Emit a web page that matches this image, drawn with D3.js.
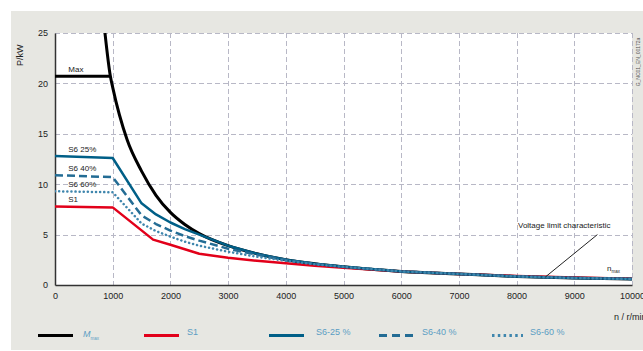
<!DOCTYPE html>
<html>
<head>
<meta charset="utf-8">
<script src="https://cdn.jsdelivr.net/npm/d3@7"></script>
<style>
  body { margin: 0; background: #fff; }
  svg { display: block; font-family: "Liberation Sans", Arial, sans-serif; }
</style>
</head>
<body>
<div id="container"></div>
<script>
// ---- data ----
const xTicks = [0, 1000, 2000, 3000, 4000, 5000, 6000, 7000, 8000, 9000, 10000];
const yTicks = [0, 5, 10, 15, 20, 25];

// Max: flat part and torque-limit curve
const maxFlatN = [0, 960];
const maxFlatP = [20.7, 20.7];
const maxN = [866, 960, 1000, 1250, 1500, 1750, 2000, 2250, 2500, 3000, 3500, 4000, 5000, 6000, 7000, 8000, 9000, 10000];
const maxP = [25, 20.7, 19.6, 14.4, 11.3, 8.9, 7.2, 6.0, 5.1, 3.9, 3.1, 2.5, 1.8, 1.35, 1.1, 0.85, 0.7, 0.6];

const s625N = [0, 1000, 1500, 1750, 2000, 2250, 2500, 3000, 3500, 4000, 4500, 5000, 6000, 7000, 8000, 9000, 10000];
const s625P = [12.8, 12.6, 8.1, 7.0, 6.2, 5.55, 5.0, 3.9, 3.1, 2.5, 2.1, 1.8, 1.35, 1.1, 0.85, 0.7, 0.6];

const s640N = [0, 1000, 1500, 1750, 2000, 2250, 2500, 3000, 3500, 4000, 4500, 5000, 6000, 7000, 8000, 9000, 10000];
const s640P = [10.9, 10.7, 6.9, 6.05, 5.4, 4.85, 4.4, 3.6, 3.0, 2.5, 2.1, 1.8, 1.35, 1.1, 0.85, 0.7, 0.6];

const s660N = [0, 1000, 1500, 1750, 2000, 2250, 2500, 3000, 3500, 4000, 4500, 5000, 6000, 7000, 8000, 9000, 10000];
const s660P = [9.3, 9.2, 6.1, 5.35, 4.8, 4.3, 3.9, 3.3, 2.8, 2.4, 2.05, 1.8, 1.35, 1.1, 0.85, 0.7, 0.6];

const s1N = [0, 1000, 1700, 2000, 2500, 3000, 3500, 4000, 4500, 5000, 6000, 7000, 8000, 9000, 10000];
const s1P = [7.8, 7.7, 4.5, 4.0, 3.1, 2.7, 2.4, 2.15, 1.9, 1.7, 1.35, 1.1, 0.9, 0.75, 0.62];

const curveLabels = ['Max', 'S6 25%', 'S6 40%', 'S6 60%', 'S1'];
const curveLabelP = [20.7, 12.8, 10.9, 9.3, 7.8];
const legendNames = ['S1', 'S6-25 %', 'S6-40 %', 'S6-60 %'];

const W = 643, H = 351;
const margin = { top: 33, right: 11, bottom: 66, left: 55 };

const svg = d3.select('#container')
  .append('svg')
  .attr('width', W)
  .attr('height', H);

// grey panel
svg.append('rect')
  .attr('x', 11).attr('y', 11)
  .attr('width', W - 11).attr('height', 339)
  .attr('fill', '#e7e7e2');

const x = d3.scaleLinear().domain([0, 10000]).range([margin.left, W - margin.right]);
const y = d3.scaleLinear().domain([0, 25]).range([H - margin.bottom, margin.top]);

// plot background
svg.append('rect')
  .attr('x', x(0)).attr('y', y(25))
  .attr('width', x(10000) - x(0)).attr('height', y(0) - y(25))
  .attr('fill', '#fff');

/*==================================================
    GRID
===================================================*/
const grid = svg.append('g')
  .attr('stroke', '#b8b8c6')
  .attr('stroke-width', 1)
  .attr('stroke-dasharray', '5 3');

grid.selectAll('.vg')
  .data(xTicks.slice(1))
  .enter().append('line')
  .attr('x1', d => Math.round(x(d)) + 0.5).attr('x2', d => Math.round(x(d)) + 0.5)
  .attr('y1', y(25)).attr('y2', y(0));

grid.selectAll('.hg')
  .data(yTicks.slice(1))
  .enter().append('line')
  .attr('y1', d => Math.round(y(d)) + 0.5).attr('y2', d => Math.round(y(d)) + 0.5)
  .attr('x1', x(0)).attr('x2', x(10000));

/*==================================================
    AXES
===================================================*/
const xAxis = svg.append('g')
  .attr('transform', `translate(0, ${y(0)})`)
  .call(d3.axisBottom(x).tickValues(xTicks).tickSize(0).tickPadding(8).tickFormat(d3.format('d')));

const yAxis = svg.append('g')
  .attr('transform', `translate(${x(0)}, 0)`)
  .call(d3.axisLeft(y).tickValues(yTicks).tickSize(0).tickPadding(7));

[xAxis, yAxis].forEach(a => {
  a.select('.domain').attr('stroke', '#333').attr('stroke-width', 1.5);
  a.selectAll('text').attr('fill', '#222').style('font-size', '9px')
    .style('font-family', '"Liberation Sans", Arial, sans-serif');
});

svg.append('text')
  .attr('transform', `translate(23, ${y(22.8)}) rotate(-90)`)
  .attr('text-anchor', 'middle')
  .style('font-size', '9px')
  .attr('fill', '#222')
  .text('P/kW');

svg.append('text')
  .attr('x', 614).attr('y', 320)
  .style('font-size', '9px')
  .attr('fill', '#222')
  .text('n / r/min');

svg.append('text')
  .attr('transform', 'translate(640, 62) rotate(-90)')
  .attr('text-anchor', 'middle')
  .style('font-size', '5px')
  .attr('fill', '#555')
  .text('G_NC01_EN_00172a');

/*==================================================
    CURVES
===================================================*/
const zip = (a, b) => a.map((v, i) => [v, b[i]]);

// drawing order: black first, blue dotted last (on top in the tail)
const series = [
  { n: maxN, p: maxP, color: '#000', width: 3, dash: null, cap: 'butt', curve: d3.curveMonotoneX },
  { n: maxFlatN, p: maxFlatP, color: '#000', width: 3, dash: null, cap: 'butt', curve: d3.curveLinear },
  { n: s1N, p: s1P, color: '#e2001a', width: 2.5, dash: null, cap: 'butt', curve: d3.curveLinear },
  { n: s625N, p: s625P, color: '#005f87', width: 2.5, dash: null, cap: 'butt', curve: d3.curveLinear },
  { n: s640N, p: s640P, color: '#236c94', width: 2.5, dash: '8 4', cap: 'butt', curve: d3.curveLinear },
  { n: s660N, p: s660P, color: '#3f86ad', width: 2.5, dash: '0.1 4', cap: 'round', curve: d3.curveLinear }
];

const plot = svg.append('g');
plot.append('clipPath').attr('id', 'clip')
  .append('rect')
  .attr('x', x(0)).attr('y', y(25))
  .attr('width', x(10000) - x(0)).attr('height', y(0) - y(25));

plot.selectAll('path.curve')
  .data(series)
  .enter().append('path')
  .attr('class', 'curve')
  .attr('clip-path', 'url(#clip)')
  .attr('d', d => d3.line().x(p => x(p[0])).y(p => y(p[1])).curve(d.curve)(zip(d.n, d.p)))
  .attr('fill', 'none')
  .attr('stroke', d => d.color)
  .attr('stroke-width', d => d.width)
  .attr('stroke-dasharray', d => d.dash)
  .attr('stroke-linecap', d => d.cap)
  .attr('stroke-linejoin', 'round');

// curve labels
svg.selectAll('.clabel')
  .data(curveLabels)
  .enter().append('text')
  .attr('x', x(230))
  .attr('y', (d, i) => y(curveLabelP[i]) - 4)
  .style('font-size', '8px')
  .attr('fill', '#222')
  .text(d => d);

// annotation
svg.append('text')
  .attr('x', 518).attr('y', 228)
  .style('font-size', '8px')
  .attr('fill', '#222')
  .text('Voltage limit characteristic');

svg.append('line')
  .attr('x1', x(9400)).attr('y1', y(5))
  .attr('x2', x(8500)).attr('y2', y(0.8))
  .attr('stroke', '#222').attr('stroke-width', 1);

const nmax = svg.append('text')
  .attr('x', 607).attr('y', 271)
  .style('font-size', '8px')
  .attr('fill', '#222');
nmax.append('tspan').text('n');
nmax.append('tspan').attr('dy', 2).style('font-size', '4.5px').text('max');

/*==================================================
    LEGEND
===================================================*/
const legendY = 335.5;
const legendItems = [
  { x1: 38, x2: 73, color: '#000', dash: null, tx: 83 },
  { x1: 144, x2: 179, color: '#e2001a', dash: null, tx: 187 },
  { x1: 269, x2: 304, color: '#005f87', dash: null, tx: 316 },
  { x1: 379, x2: 413, color: '#236c94', dash: '8 5', tx: 422 },
  { x1: 492, x2: 523, color: '#3f86ad', dash: '2.5 3.3', tx: 530 }
];

const legend = svg.append('g');
legend.selectAll('line')
  .data(legendItems)
  .enter().append('line')
  .attr('x1', d => d.x1).attr('x2', d => d.x2)
  .attr('y1', legendY).attr('y2', legendY)
  .attr('stroke', d => d.color)
  .attr('stroke-width', 3)
  .attr('stroke-dasharray', d => d.dash);

const mmax = legend.append('text')
  .attr('x', legendItems[0].tx).attr('y', legendY + 1)
  .style('font-size', '9px')
  .attr('fill', '#5b9dc3');
mmax.append('tspan').style('font-style', 'italic').text('M');
mmax.append('tspan').attr('dy', 3).style('font-size', '4.5px').text('max');

legend.selectAll('.ltext')
  .data(legendNames)
  .enter().append('text')
  .attr('x', (d, i) => legendItems[i + 1].tx)
  .attr('y', legendY - 1)
  .style('font-size', '9px')
  .attr('fill', '#5b9dc3')
  .text(d => d);
</script>
</body>
</html>
